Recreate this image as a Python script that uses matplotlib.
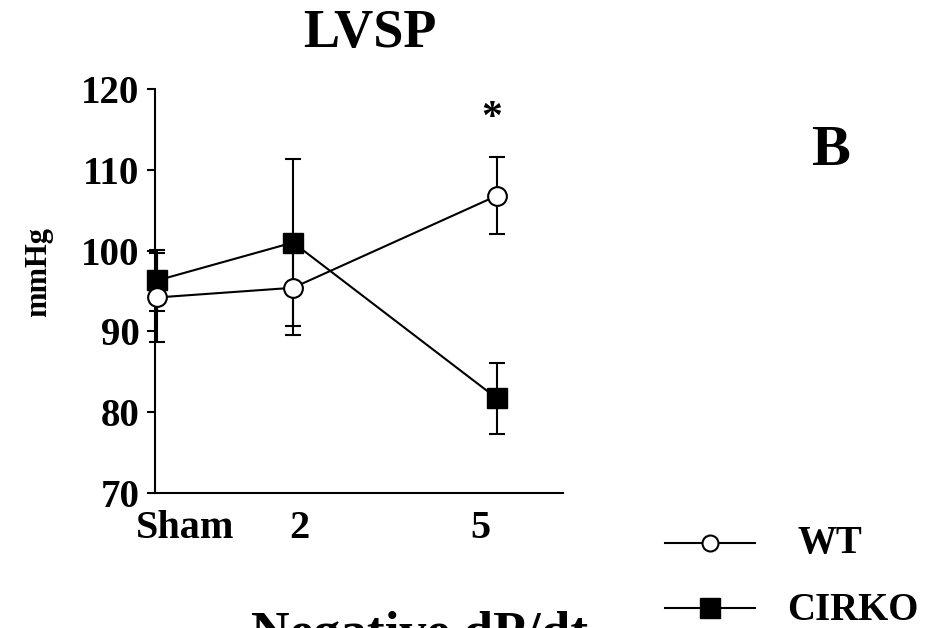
import matplotlib
matplotlib.use("Agg")
import matplotlib.pyplot as plt

plt.rcParams['font.family'] = ['Liberation Serif', 'DejaVu Serif']
plt.rcParams['font.weight'] = 'bold'

# donnees
groupes = ['Sham', '2', '5']
x_pos = [0, 1, 2.5]
label_pos = [0.21, 1.05, 2.375]

wt_moy = [94.2, 95.4, 106.8]
wt_err = [5.5, 5.8, 4.8]
cirko_moy = [96.3, 101.0, 81.7]
cirko_err = [3.8, 10.3, 4.4]

fig = plt.figure(figsize=(9.35, 6.28), dpi=100)
ax = fig.add_axes([155/935, 1-493/628, (563-155)/935, (493-89)/628])

lw = 1.5
# CIRKO d'abord, WT par dessus
ax.errorbar(x_pos, cirko_moy, yerr=cirko_err, fmt='none', ecolor='black',
            elinewidth=lw, capsize=5.5, capthick=lw, zorder=2, clip_on=False)
ax.plot(x_pos, cirko_moy, color='black', lw=lw, marker='s', ms=14,
        mfc='black', mec='black', zorder=3, clip_on=False)
ax.errorbar(x_pos, wt_moy, yerr=wt_err, fmt='none', ecolor='black',
            elinewidth=lw, capsize=5.5, capthick=lw, zorder=4, clip_on=False)
ax.plot(x_pos, wt_moy, color='black', lw=lw, marker='o', ms=13.5,
        mfc='white', mec='black', mew=1.5, zorder=5, clip_on=False)

ax.set_xlim(-0.015, 2.985)
ax.set_ylim(70, 120)
ax.set_yticks([70, 80, 90, 100, 110, 120])
ax.set_xticks(label_pos, groupes)
ax.tick_params(axis='x', length=0, pad=12, labelsize=29)
ax.tick_params(axis='y', length=6, width=1.5, pad=5, labelsize=28)
for lab in ax.get_xticklabels() + ax.get_yticklabels():
    lab.set_fontweight('bold')

for s in ['top', 'right']:
    ax.spines[s].set_visible(False)
for s in ['left', 'bottom']:
    ax.spines[s].set_linewidth(1.5)

ax.set_ylabel('mmHg', fontsize=22, fontweight='bold')
ax.yaxis.set_label_coords(-0.25, 0.547)

ax.text(2.46, 116.3, '*', ha='center', va='center', fontsize=30, fontweight='bold')

fig.text(370/935, 1-47/628, 'LVSP', ha='center', va='baseline',
         fontsize=39, fontweight='bold')
fig.text(831/935, 1-165/628, 'B', ha='center', va='baseline',
         fontsize=42, fontweight='bold')
fig.text(420/935, 1-648/628, 'Negative dP/dt', ha='center', va='baseline',
         fontsize=38.5, fontweight='bold')

# legende faite a la main
leg = fig.add_axes([0, 0, 1, 1], facecolor='none')
leg.set_xlim(0, 935)
leg.set_ylim(628, 0)
leg.axis('off')
leg.plot([665, 755], [543, 543], color='black', lw=lw)
leg.plot([710], [543], marker='o', ms=11.5, mfc='white', mec='black', mew=1.5)
leg.plot([665, 755], [608, 608], color='black', lw=lw)
leg.plot([710], [608], marker='s', ms=14, mfc='black', mec='black')
leg.text(797, 553, 'WT', ha='left', va='baseline', fontsize=28, fontweight='bold')
leg.text(787, 620, 'CIRKO', ha='left', va='baseline', fontsize=28, fontweight='bold')

fig.savefig('out.png', dpi=100)
